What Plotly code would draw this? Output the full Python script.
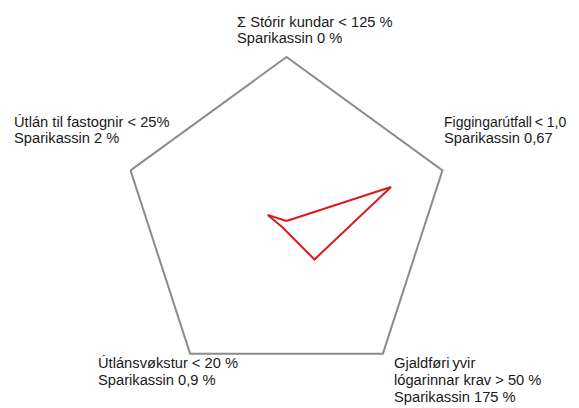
import plotly.graph_objects as go

categories = ["Stórir kundar", "Figgingarútfall", "Gjaldføri", "Útlánsvøkstur", "Útlán til fastognir"]
values = [0.0, 0.67, 0.29, 0.045, 0.12]

label_lines = [
    ["Σ Stórir kundar < 125 %", "Sparikassin 0 %"],
    ["Figgingarútfall\u2009< 1,0", "Sparikassin 0,67"],
    ["Gjaldføri\u2009yvir", "lógarinnar krav > 50 %", "Sparikassin 175 %"],
    ["Útlánsvøkstur < 20 %", "Sparikassin 0,9 %"],
    ["Útlán til fastognir < 25%", "Sparikassin 2 %"],
]
# label anchor in window pixels (left x, first baseline)
label_pos = [(235, 26.7), (442, 126.7), (392, 368.3), (96, 368.3), (11.5, 126.7)]

W, H = 579, 408
OFF = 8  # page body margin offset
cx, cy, R = 286.5 - OFF, 221.0 - OFF, 164.0

fig = go.Figure()
fig.add_trace(go.Scatterpolar(
    r=values + [values[0]],
    theta=categories + [categories[0]],
    mode="lines",
    line=dict(color="#e0191e", width=2),
    hoverinfo="skip",
    showlegend=False,
))

ann = []
fs = 14.7
lh = 16.7
for lines, (lx, ly) in zip(label_lines, label_pos):
    for i, t in enumerate(lines):
        base = ly + i * lh - OFF
        mid = base - 0.3465 * fs
        size = 14.0 if t.startswith("Figging") else fs
        ann.append(dict(
            text=t, x=(lx - OFF) / W, y=1 - mid / H, xref="paper", yref="paper",
            xanchor="left", yanchor="middle", showarrow=False,
            font=dict(family="Liberation Sans, Arial", size=size, color="#1a1a1a"),
        ))

fig.update_layout(
    width=W, height=H,
    margin=dict(l=0, r=0, t=0, b=0),
    paper_bgcolor="white",
    plot_bgcolor="white",
    annotations=ann,
    polar=dict(
        domain=dict(x=[(cx - R) / W, (cx + R) / W], y=[(H - cy - R) / H, (H - cy + R) / H]),
        gridshape="linear",
        bgcolor="white",
        radialaxis=dict(range=[0, 1], visible=False, showgrid=False, showline=False),
        angularaxis=dict(rotation=90, direction="clockwise", showgrid=False, showline=True,
                         linecolor="#8c8c8c", linewidth=2, showticklabels=False, ticks=""),
    ),
)

fig.write_html("out.html")
